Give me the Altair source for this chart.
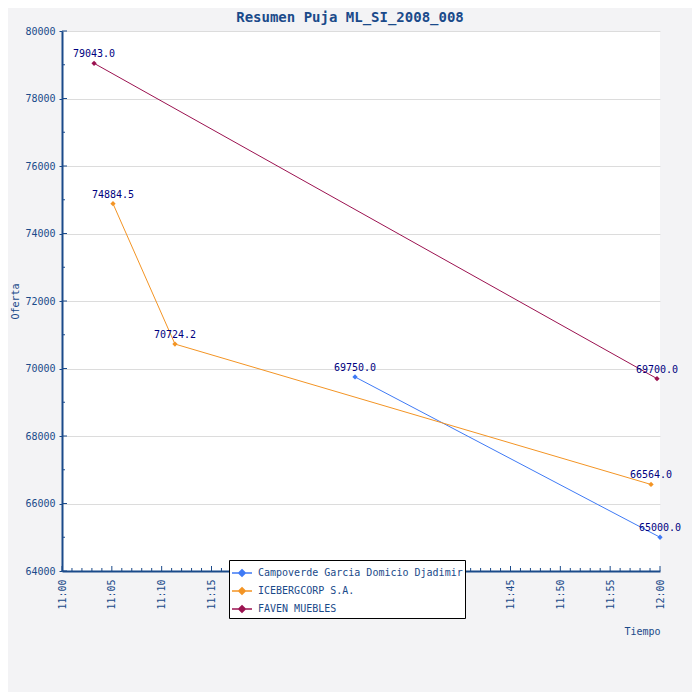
import altair as alt
import pandas as pd

series = ["Campoverde Garcia Domicio Djadimir", "ICEBERGCORP S.A.", "FAVEN MUEBLES"]
colors = ["#3f7af5", "#f39424", "#9b1250"]

camp_times = ["2008-06-01T11:29:24", "2008-06-01T12:00:00"]
camp_values = [69750.0, 65000.0]
ice_times = ["2008-06-01T11:05:07", "2008-06-01T11:11:20", "2008-06-01T11:59:06"]
ice_values = [74884.5, 70724.2, 66564.0]
fav_times = ["2008-06-01T11:03:13", "2008-06-01T11:59:42"]
fav_values = [79043.0, 69700.0]

rows = []
for name, ts, vs in [(series[0], camp_times, camp_values),
                     (series[1], ice_times, ice_values),
                     (series[2], fav_times, fav_values)]:
    for t, v in zip(ts, vs):
        rows.append({"serie": name, "t": t, "v": v})
df = pd.DataFrame(rows)

MONO = "DejaVu Sans Mono"
AXC = "#1a4a8a"


def dt(h, m):
    return alt.DateTime(year=2008, month=6, date=1, hours=h, minutes=m)


def ts(m):
    h = 11 + m // 60
    return f"2008-06-01T{h:02d}:{m % 60:02d}:00"


x_domain = [dt(11, 0), dt(12, 0)]
five_min = [dt(11 + (m // 60), m % 60) for m in range(0, 61, 5)]
y_major = list(range(64000, 80001, 2000))

# tick positions (axis decoration), drawn inward like the reference
x_major_ticks = pd.DataFrame({"t": [ts(m) for m in range(0, 61, 5)]})
x_minor_ticks = pd.DataFrame({"t": [ts(m) for m in range(0, 61) if m % 5]})
y_major_ticks = pd.DataFrame({"v": list(range(64000, 80001, 2000))})
y_minor_ticks = pd.DataFrame({"v": list(range(65000, 80000, 2000))})

xs = alt.Scale(domain=x_domain)
ys = alt.Scale(domain=[64000, 80000], nice=False, zero=False)

x_main = alt.X("t:T", scale=xs, axis=alt.Axis(
    values=five_min, format="%H:%M", labelAngle=-90, ticks=False, grid=False,
    labelFont=MONO, labelFontSize=10, labelColor=AXC, labelPadding=8,
    domainColor=AXC, domainWidth=2, title="Tiempo", titleFont=MONO,
    titleFontSize=10, titleFontWeight="normal", titleColor=AXC,
    titleAnchor="end", titlePadding=17, labelFlush=False, labelOverlap=False))
y_main = alt.Y("v:Q", scale=ys, axis=alt.Axis(
    values=y_major, format="d", grid=True, gridColor="#dcdcdc",
    tickSize=3, tickColor=AXC, tickWidth=1, labelFont=MONO, labelFontSize=10,
    labelColor=AXC, labelPadding=4, domainColor=AXC, domainWidth=2,
    title="Oferta", titleFont=MONO, titleFontSize=10, titleFontWeight="normal",
    titleColor=AXC, titlePadding=4, labelFlush=False, labelOverlap=False))

LEG_SYM = ("M-1,0L1,0M0,-0.32L0.32,0L0,0.32L-0.32,0Z"
           "M0,-0.18L0.18,0L0,0.18L-0.18,0Z")

color_line = alt.Color("serie:N", scale=alt.Scale(domain=series, range=colors),
                       legend=alt.Legend(orient="none", legendX=167, legendY=529,
                                         title=None, fillColor="white",
                                         strokeColor="black", padding=2,
                                         labelFont=MONO, labelFontSize=10,
                                         labelColor=AXC, symbolType=LEG_SYM,
                                         symbolSize=400, rowPadding=-5,
                                         symbolStrokeWidth=1.6, labelLimit=0,
                                         labelOffset=5))
color_pt = alt.Color("serie:N", scale=alt.Scale(domain=series, range=colors),
                     legend=None)

base = alt.Chart(df)

lines = base.mark_line(strokeWidth=1).encode(x=x_main, y=y_main, color=color_line)
points = base.mark_point(shape="diamond", filled=True, size=28, opacity=1).encode(
    x=alt.X("t:T", scale=xs), y=alt.Y("v:Q", scale=ys), color=color_pt)
labels = base.mark_text(dy=-9, color="#000080", font=MONO, fontSize=10).encode(
    x=alt.X("t:T", scale=xs), y=alt.Y("v:Q", scale=ys),
    text=alt.Text("v:Q", format=".1f"))

xmaj = alt.Chart(x_major_ticks).mark_rule(color=AXC, strokeWidth=1).encode(
    x=alt.X("t:T", scale=xs), y=alt.value(540), y2=alt.value(535))
xmin = alt.Chart(x_minor_ticks).mark_rule(color=AXC, strokeWidth=1).encode(
    x=alt.X("t:T", scale=xs), y=alt.value(540), y2=alt.value(537))
ymaj = alt.Chart(y_major_ticks).mark_rule(color=AXC, strokeWidth=1).encode(
    y=alt.Y("v:Q", scale=ys), x=alt.value(0), x2=alt.value(5))
ymin = alt.Chart(y_minor_ticks).mark_rule(color=AXC, strokeWidth=1).encode(
    y=alt.Y("v:Q", scale=ys), x=alt.value(0), x2=alt.value(3))

chart = alt.layer(lines, points, labels, xmaj, xmin, ymaj, ymin).resolve_legend(
    color="independent"
).properties(
    width=598, height=540,
    autosize=alt.AutoSizeParams(type="none"),
    padding={"left": 54, "top": 23, "right": 32, "bottom": 121},
    title=alt.Title("Resumen Puja ML_SI_2008_008", font=MONO, fontSize=14,
                    fontWeight="bold", color=AXC, offset=1, dx=-11,
                    anchor="middle"),
    background="#f3f3f5",
).configure_view(fill="white", strokeWidth=0)

chart.save("out.html", embed_options={"renderer": "svg", "actions": False})
